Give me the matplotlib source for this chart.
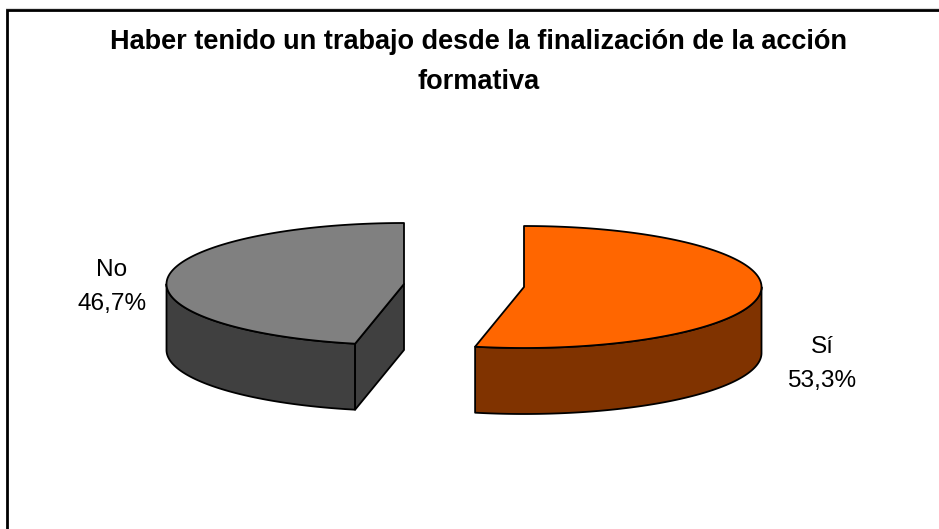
import numpy as np
import matplotlib
matplotlib.use("Agg")
import matplotlib.pyplot as plt
from matplotlib.patches import Polygon

plt.rcParams['font.family'] = ['Liberation Sans', 'DejaVu Sans']

title = "Haber tenido un trabajo desde la finalización de la acción\nformativa"
categories = ["Sí", "No"]
values = [53.3, 46.7]
value_labels = ["53,3%", "46,7%"]
top_colors = ["#FF6600", "#808080"]
side_colors = ["#803300", "#404040"]
centers = [(524, 287), (404, 284)]
label_pos = [(822, 364), (112, 287)]

A, B, DEPTH = 237.5, 61, 66
LW = 1.3

W, H = 939, 529
fig = plt.figure(figsize=(W / 100, H / 100), dpi=100)
ax = fig.add_axes([0, 0, 1, 1])
ax.set_xlim(0, W)
ax.set_ylim(H, 0)
ax.axis('off')


def rim(cx, cy, t0, t1, dy=0.0):
    # t is the clockwise angle from 12 o'clock, in degrees
    t = np.radians(np.linspace(t0, t1, max(int(abs(t1 - t0)) * 2, 2)))
    return np.column_stack([cx + A * np.sin(t), cy - B * np.cos(t) + dy])


def poly(points, color, z):
    ax.add_patch(Polygon(points, closed=True, facecolor=color, edgecolor='black',
                         linewidth=LW, joinstyle='round', zorder=z))


total = sum(values)
start = 0.0
for i, v in enumerate(values):
    end = start + v / total * 360.0
    cx, cy = centers[i]
    # outer wall: only the front half of the rim (90..270) faces the viewer
    w0, w1 = max(start, 90.0), min(end, 270.0)
    if w1 > w0:
        upper = rim(cx, cy, w0, w1)
        lower = rim(cx, cy, w0, w1, DEPTH)
        poly(np.vstack([upper, lower[::-1]]), side_colors[i], 2)
    # cut face at the start of the slice, visible when it looks toward the viewer
    if 180.0 < start < 360.0:
        edge = rim(cx, cy, start, start + 0.01)[0]
        poly([(cx, cy), tuple(edge), (edge[0], edge[1] + DEPTH), (cx, cy + DEPTH)],
             side_colors[i], 2)
    poly(np.vstack([[(cx, cy)], rim(cx, cy, start, end)]), top_colors[i], 3)
    lx, ly = label_pos[i]
    ax.text(lx, ly, f"{categories[i]}\n{value_labels[i]}", ha='center', va='center',
            fontsize=17.6, color='black', linespacing=1.68, zorder=5)
    start = end

# chart frame: only left and top edges fall inside the crop
ax.plot([W, 7, 7], [10, 10, H], color='black', lw=2.0, solid_joinstyle='miter', zorder=1)
ax.plot([6, W], [8, 8], color='#dddddd', lw=0.8, zorder=0)

ax.text(478.5, 62, title, ha='center', va='center', fontsize=19.5, fontweight='bold',
        color='black', linespacing=1.68, zorder=5)

fig.savefig("out.png", dpi=100, facecolor='white')
